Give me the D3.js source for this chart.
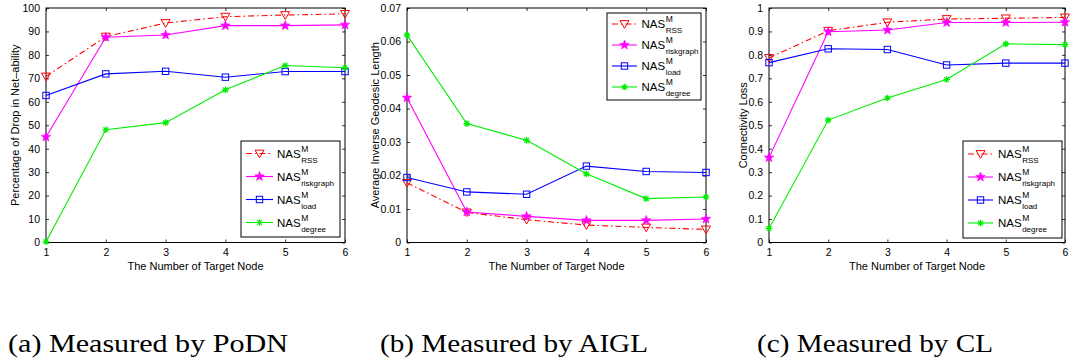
<!DOCTYPE html>
<html>
<head>
<meta charset="utf-8">
<script src="https://cdn.jsdelivr.net/npm/d3@7/dist/d3.min.js"></script>
<style>
  html, body { margin: 0; padding: 0; background: #fff; }
  svg { display: block; }
  text { font-family: "Liberation Sans", Arial, sans-serif; fill: #000; }
</style>
</head>
<body>
<svg id="fig" width="1079" height="364"></svg>
<script>
// Number of target nodes removed
const targetNodes = [1, 2, 3, 4, 5, 6];

// (a) Percentage of drop in net-ability
const podnRSS       = [70.8, 87.8, 93.6, 96.3, 97.0, 97.5];
const podnRiskgraph = [45.0, 87.5, 88.5, 92.5, 92.5, 92.8];
const podnLoad      = [62.7, 71.9, 73.0, 70.5, 72.9, 72.9];
const podnDegree    = [0.3, 48.1, 51.1, 65.1, 75.5, 74.5];

// (b) Average inverse geodesic length
const aiglRSS       = [0.0178, 0.0090, 0.0068, 0.0052, 0.0045, 0.0039];
const aiglRiskgraph = [0.0432, 0.0091, 0.0078, 0.0066, 0.0066, 0.0070];
const aiglLoad      = [0.0194, 0.0151, 0.0144, 0.0228, 0.0212, 0.0209];
const aiglDegree    = [0.0619, 0.0355, 0.0305, 0.0205, 0.0131, 0.0136];

// (c) Connectivity loss
const clRSS       = [0.787, 0.903, 0.939, 0.953, 0.956, 0.960];
const clRiskgraph = [0.362, 0.899, 0.906, 0.938, 0.938, 0.939];
const clLoad      = [0.767, 0.826, 0.823, 0.757, 0.765, 0.765];
const clDegree    = [0.060, 0.522, 0.616, 0.695, 0.847, 0.844];

// Tick values
const podnTicks = [0, 10, 20, 30, 40, 50, 60, 70, 80, 90, 100];
const aiglTicks = [0, 0.01, 0.02, 0.03, 0.04, 0.05, 0.06, 0.07];
const clTicks   = [0, 0.1, 0.2, 0.3, 0.4, 0.5, 0.6, 0.7, 0.8, 0.9, 1];

// Series names (legend subscripts)
const seriesNames = ["RSS", "riskgraph", "load", "degree"];

const captions = ["(a) Measured by PoDN", "(b) Measured by AIGL", "(c) Measured by CL"];
const yLabels = ["Percentage of Drop in Net\u2013ability", "Average Inverse Geodesic Length", "Connectivity Loss"];
const xLabel = "The Number of Target Node";

const styles = [
  { color: "#ff0000", dash: "6,3,1.5,3", marker: "tri" },
  { color: "#ff00ff", dash: null, marker: "star" },
  { color: "#0000ff", dash: null, marker: "square" },
  { color: "#00ee00", dash: null, marker: "asterisk" }
];

const panels = [
  { x0: 46, x1: 345, domain: [0, 100], ticks: podnTicks, fmt: d => String(d),
    series: [podnRSS, podnRiskgraph, podnLoad, podnDegree],
    legend: { x: 241, y: 141, w: 99, h: 96, line0: 246, line1: 273, text: 277, rows: [153.5, 176.5, 199.5, 222.5] },
    ylabX: 15, caption: { x: 8, w: 280 } },
  { x0: 407, x1: 706, domain: [0, 0.07], ticks: aiglTicks, fmt: d => d === 0 ? "0" : d3.format(".2f")(d),
    series: [aiglRSS, aiglRiskgraph, aiglLoad, aiglDegree],
    legend: { x: 607, y: 13, w: 94, h: 87, line0: 612, line1: 637, text: 641.5, rows: [24, 45, 66, 87] },
    ylabX: 375, caption: { x: 380, w: 268 } },
  { x0: 769, x1: 1065, domain: [0, 1], ticks: clTicks, fmt: d => (d === 0 || d === 1) ? String(d) : d3.format(".1f")(d),
    series: [clRSS, clRiskgraph, clLoad, clDegree],
    legend: { x: 963, y: 141, w: 99, h: 97, line0: 968, line1: 993, text: 998, rows: [154, 177, 200, 223] },
    ylabX: 742.5, caption: { x: 757, w: 236 } }
];

const plotTop = 8, plotBottom = 242.5;
const svg = d3.select("#fig");

function drawMarker(g, type, cx, cy, color) {
  if (type === "tri") {
    const s = 4.5;
    g.append("path")
      .attr("d", `M${cx - s},${cy - s * 0.75} L${cx + s},${cy - s * 0.75} L${cx},${cy + s * 0.95} Z`)
      .attr("fill", "none").attr("stroke", color).attr("stroke-width", 1);
  } else if (type === "star") {
    const pts = [];
    const R = 5, r = 2.1;
    for (let i = 0; i < 10; i++) {
      const a = -Math.PI / 2 + i * Math.PI / 5;
      const rad = i % 2 === 0 ? R : r;
      pts.push([cx + rad * Math.cos(a), cy + rad * Math.sin(a)]);
    }
    g.append("path").attr("d", "M" + pts.join("L") + "Z")
      .attr("fill", color).attr("stroke", color).attr("stroke-width", 0.6);
  } else if (type === "square") {
    const s = 3.2;
    g.append("rect").attr("x", cx - s).attr("y", cy - s).attr("width", 2 * s).attr("height", 2 * s)
      .attr("fill", "none").attr("stroke", color).attr("stroke-width", 1);
  } else if (type === "asterisk") {
    const s = 3.3;
    const d = s * 0.72;
    g.append("path")
      .attr("d", `M${cx - s},${cy}L${cx + s},${cy}M${cx},${cy - s}L${cx},${cy + s}` +
                 `M${cx - d},${cy - d}L${cx + d},${cy + d}M${cx - d},${cy + d}L${cx + d},${cy - d}`)
      .attr("stroke", color).attr("stroke-width", 1.2).attr("fill", "none");
  }
}

panels.forEach((p, pi) => {
  const x = d3.scaleLinear().domain([1, 6]).range([p.x0, p.x1]);
  const y = d3.scaleLinear().domain(p.domain).range([plotBottom, plotTop]);
  const g = svg.append("g");

  // Axes with inward ticks, mirrored on top and right
  const tl = 3;
  const yAxisL = d3.axisLeft(y).tickValues(p.ticks).tickFormat(p.fmt).tickSizeInner(-tl).tickSizeOuter(0).tickPadding(6);
  const yAxisR = d3.axisRight(y).tickValues(p.ticks).tickFormat("").tickSizeInner(-tl).tickSizeOuter(0);
  const xAxisB = d3.axisBottom(x).tickValues(targetNodes).tickFormat(d3.format("d")).tickSizeInner(-tl).tickSizeOuter(0).tickPadding(6);
  const xAxisT = d3.axisTop(x).tickValues(targetNodes).tickFormat("").tickSizeInner(-tl).tickSizeOuter(0);

  const axes = [
    g.append("g").attr("transform", `translate(${p.x0},0)`).call(yAxisL),
    g.append("g").attr("transform", `translate(${p.x1},0)`).call(yAxisR),
    g.append("g").attr("transform", `translate(0,${plotBottom})`).call(xAxisB),
    g.append("g").attr("transform", `translate(0,${plotTop})`).call(xAxisT)
  ];
  axes.forEach(a => {
    a.selectAll(".domain").remove();
    a.selectAll("line").attr("stroke", "#000").attr("stroke-width", 0.8);
    a.selectAll("text").attr("font-family", "Liberation Sans, Arial, sans-serif").attr("font-size", 10.5).attr("fill", "#000");
  });

  // Plot frame
  g.append("rect").attr("x", p.x0).attr("y", plotTop).attr("width", p.x1 - p.x0).attr("height", plotBottom - plotTop)
    .attr("fill", "none").attr("stroke", "#000").attr("stroke-width", 1);

  // Axis labels
  g.append("text").attr("x", (p.x0 + p.x1) / 2).attr("y", 269.5).attr("text-anchor", "middle")
    .attr("font-size", 11).text(xLabel);
  g.append("text").attr("transform", `translate(${p.ylabX + 4},${(plotTop + plotBottom) / 2}) rotate(-90)`)
    .attr("text-anchor", "middle").attr("font-size", 11).text(yLabels[pi]);

  // Series lines and markers
  const line = d3.line().x((d, i) => x(targetNodes[i])).y(d => y(d));
  p.series.forEach((vals, si) => {
    const st = styles[si];
    g.append("path").datum(vals).attr("d", line).attr("fill", "none")
      .attr("stroke", st.color).attr("stroke-width", 1.1)
      .attr("stroke-dasharray", st.dash);
    vals.forEach((v, i) => drawMarker(g, st.marker, x(targetNodes[i]), y(v), st.color));
  });

  // Legend
  const L = p.legend;
  const lg = g.append("g");
  lg.append("rect").attr("x", L.x).attr("y", L.y).attr("width", L.w).attr("height", L.h)
    .attr("fill", "#fff").attr("stroke", "#000").attr("stroke-width", 1);
  seriesNames.forEach((name, si) => {
    const st = styles[si];
    const cy = L.rows[si];
    lg.append("line").attr("x1", L.line0).attr("x2", L.line1).attr("y1", cy).attr("y2", cy)
      .attr("stroke", st.color).attr("stroke-width", 1.1).attr("stroke-dasharray", st.dash);
    drawMarker(lg, st.marker, (L.line0 + L.line1) / 2, cy, st.color);
    const base = cy + 4;
    const t = lg.append("text").attr("x", L.text).attr("y", base).attr("font-size", 11.5).text("NAS");
    const w = t.node().getComputedTextLength();
    lg.append("text").attr("x", L.text + w + 0.5).attr("y", base - 6).attr("font-size", 8.5).text("M");
    lg.append("text").attr("x", L.text + w + 0.5).attr("y", base + 5).attr("font-size", 8).text(name);
  });

  // Caption
  svg.append("text").attr("x", p.caption.x).attr("y", 352)
    .attr("font-size", 25)
    .attr("textLength", p.caption.w).attr("lengthAdjust", "spacingAndGlyphs")
    .style("font-family", "'Liberation Serif', serif")
    .text(captions[pi]);
});
</script>
</body>
</html>
